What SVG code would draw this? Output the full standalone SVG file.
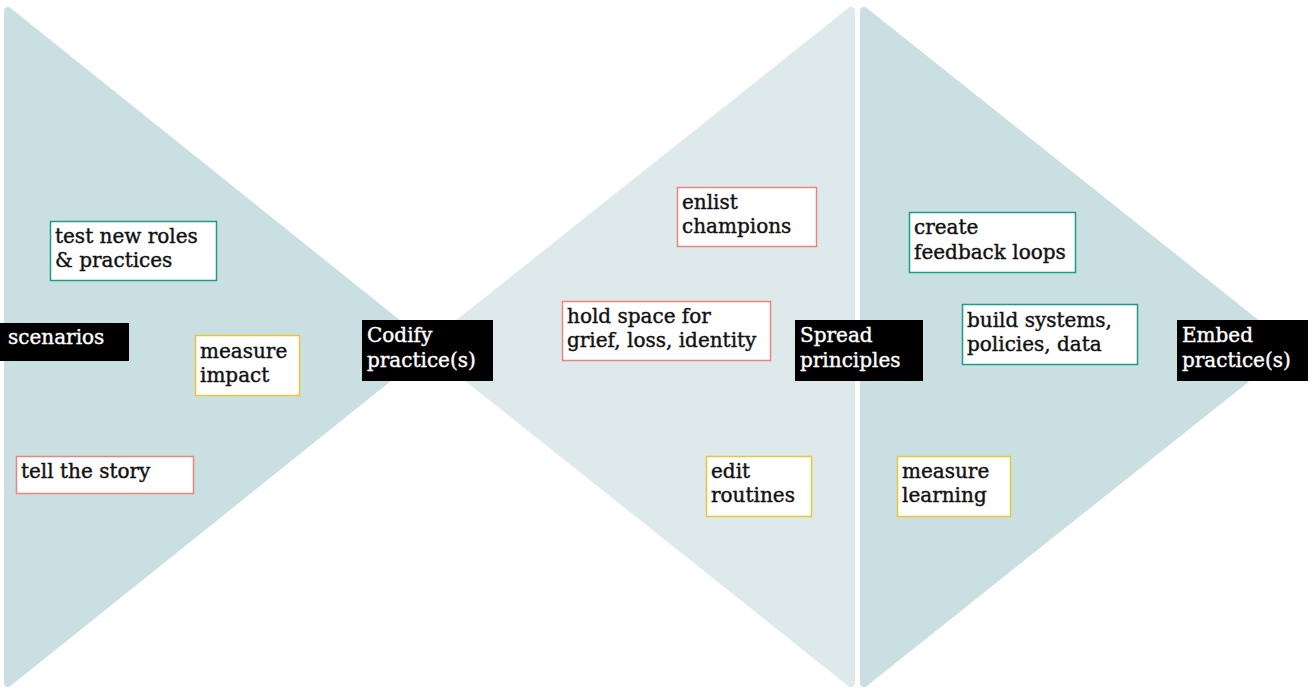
<svg xmlns="http://www.w3.org/2000/svg" width="1314" height="688" viewBox="0 0 1314 688">
<style>
.t{font-family:"DejaVu Serif","Liberation Serif",serif;font-size:20px;fill:#111;stroke:#111;stroke-width:0.4}
.w{font-family:"DejaVu Serif","Liberation Serif",serif;font-size:20px;fill:#fff;stroke:#fff;stroke-width:0.4}
.box{fill:#fff;stroke-width:1.5}
.teal{stroke:#1f9a88}
.yel{stroke:#e8c63c}
.red{stroke:#e8867c}
.blk{fill:#000}
.tri1{fill:#cadfe2;stroke:#cadfe2;stroke-width:8;stroke-linejoin:round}
.tri2{fill:#dde9eb;stroke:#dde9eb;stroke-width:8;stroke-linejoin:round}
</style>
<rect width="1314" height="688" fill="#fff"/>
<g id="shapes">
<polygon class="tri1" points="8,11 8,683 427,347"/>
<polygon class="tri2" points="851,11 851,683 429,347"/>
<polygon class="tri1" points="864,11 864,683 1286,347"/>
</g>
<g id="connectors"></g>
<g id="test-roles"><rect class="box teal" x="50.5" y="221.5" width="166" height="59"/><text class="t" x="55" y="243">test new roles</text><text class="t" x="55" y="267">&amp; practices</text></g>
<g id="scenarios"><rect class="blk" x="0" y="323" width="129" height="38"/><text class="w" x="8" y="344">scenarios</text></g>
<g id="measure-impact"><rect class="box yel" x="195.5" y="335.5" width="104" height="60"/><text class="t" x="200" y="358">measure</text><text class="t" x="200" y="382">impact</text></g>
<g id="tell-story"><rect class="box red" x="16.5" y="456.5" width="177" height="37"/><text class="t" x="21" y="478">tell the story</text></g>
<g id="codify"><rect class="blk" x="362" y="320" width="131" height="61"/><text class="w" x="367" y="342">Codify</text><text class="w" x="367" y="367">practice(s)</text></g>
<g id="enlist"><rect class="box red" x="677.5" y="187.5" width="139" height="59"/><text class="t" x="682" y="209">enlist</text><text class="t" x="682" y="233">champions</text></g>
<g id="hold-space"><rect class="box red" x="562.5" y="301.5" width="208" height="59"/><text class="t" x="567" y="323">hold space for</text><text class="t" x="567" y="347">grief, loss, identity</text></g>
<g id="spread"><rect class="blk" x="795" y="320" width="128" height="61"/><text class="w" x="800" y="342">Spread</text><text class="w" x="800" y="367">principles</text></g>
<g id="edit-routines"><rect class="box yel" x="706.5" y="456.5" width="105" height="60"/><text class="t" x="711" y="478">edit</text><text class="t" x="711" y="502">routines</text></g>
<g id="create-loops"><rect class="box teal" x="909.5" y="212.5" width="166" height="60"/><text class="t" x="914" y="234">create</text><text class="t" x="914" y="259">feedback loops</text></g>
<g id="build-systems"><rect class="box teal" x="962.5" y="304.5" width="175" height="60"/><text class="t" x="967" y="327">build systems,</text><text class="t" x="967" y="351">policies, data</text></g>
<g id="measure-learning"><rect class="box yel" x="897.5" y="456.5" width="113" height="60"/><text class="t" x="902" y="478">measure</text><text class="t" x="902" y="502">learning</text></g>
<g id="embed"><rect class="blk" x="1177" y="320" width="131" height="61"/><text class="w" x="1182" y="342">Embed</text><text class="w" x="1182" y="367">practice(s)</text></g>
</svg>
